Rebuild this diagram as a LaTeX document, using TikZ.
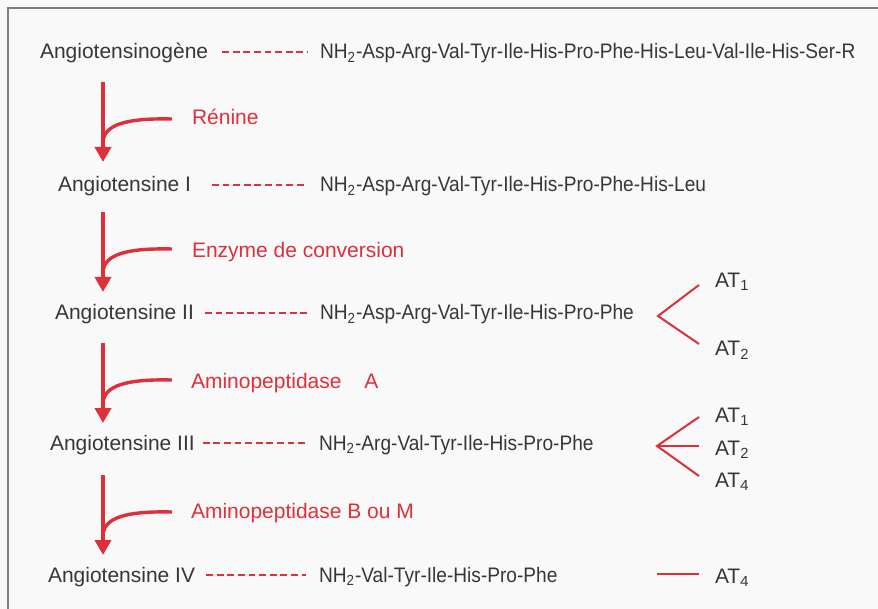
\documentclass[tikz,border=0pt]{standalone}
\usepackage{fontspec}
\setmainfont{Liberation Sans}
\newfontfamily\pepfont{Liberation Sans}[FakeStretch=0.91]
\usetikzlibrary{arrows.meta}
\definecolor{myred}{RGB}{222,48,58}
\definecolor{txt}{RGB}{55,55,55}
\definecolor{framec}{RGB}{125,125,125}
\definecolor{bg}{RGB}{249,249,249}
\begin{document}
\begin{tikzpicture}[x=0.5pt,y=-0.5pt,
  every node/.style={inner sep=0pt, outer sep=0pt, font=\fontsize{10.5}{12}\selectfont, text=txt, anchor=base west},
  pep/.style={font=\fontsize{10.5}{12}\pepfont},
  lbl/.style={text=myred},
  dashln/.style={draw=myred, line width=0.7pt, dash pattern=on 3.4pt off 1.9pt},
  enz/.style={draw=myred, line width=2.2pt, -{Triangle[length=7.5pt,width=8pt]}},
  enzcurve/.style={draw=myred, line width=1.7pt},
  rec/.style={draw=myred, line width=1pt},
]
\fill[bg] (0,0) rectangle (878,609);
\useasboundingbox (0,0) rectangle (878,609);
\draw[framec, line width=1pt] (878,8) -- (8,8) -- (8,609);

% names and peptides
\node (n0) at (40,59) {Angiotensinogène};
\node[pep] (p0) at (320,59) {NH\textsubscript{2}-Asp-Arg-Val-Tyr-Ile-His-Pro-Phe-His-Leu-Val-Ile-His-Ser-R};
\node (n1) at (58,192) {Angiotensine I};
\node[pep] (p1) at (320,192) {NH\textsubscript{2}-Asp-Arg-Val-Tyr-Ile-His-Pro-Phe-His-Leu};
\node (n2) at (55,320) {Angiotensine II};
\node[pep] (p2) at (320,320) {NH\textsubscript{2}-Asp-Arg-Val-Tyr-Ile-His-Pro-Phe};
\node (n3) at (50,450) {Angiotensine III};
\node[pep] (p3) at (319,450) {NH\textsubscript{2}-Arg-Val-Tyr-Ile-His-Pro-Phe};
\node (n4) at (48,582) {Angiotensine IV};
\node[pep] (p4) at (319,582) {NH\textsubscript{2}-Val-Tyr-Ile-His-Pro-Phe};

% dashed links
\draw[dashln] ([shift={(7pt,3.5pt)}]n0.base east) -- ([shift={(-6.5pt,3.5pt)}]p0.base west);
\draw[dashln] ([shift={(10.5pt,3.5pt)}]n1.base east) -- ([shift={(-6.5pt,3.5pt)}]p1.base west);
\draw[dashln] ([shift={(5.5pt,3.5pt)}]n2.base east) -- ([shift={(-6.5pt,3.5pt)}]p2.base west);
\draw[dashln] ([shift={(4pt,3.5pt)}]n3.base east) -- ([shift={(-6.5pt,3.5pt)}]p3.base west);
\draw[dashln] ([shift={(5.5pt,3.5pt)}]n4.base east) -- ([shift={(-6.5pt,3.5pt)}]p4.base west);

% enzymes
\node[lbl] (e1) at (192,125) {Rénine};
\node[lbl] (e2) at (192,257) {Enzyme de conversion};
\node[lbl] (e3) at (191,388) {Aminopeptidase\hspace{8.5pt} A};
\node[lbl] (e4) at (191,518) {Aminopeptidase B ou M};

% enzymatic arrows
\foreach \i/\t in {1/82, 2/212, 3/343, 4/475}{
  \coordinate (s\i) at (103,\t);
  \coordinate (t\i) at (103,\t+80);
  \coordinate (k\i) at (172,\t+37);
  \coordinate (j\i) at (103,\t+60);
  \draw[enz] (s\i) -- (t\i);
  \draw[enzcurve] (k\i) .. controls (128,\t+36) and (104,\t+42) .. (j\i);
}

% receptors
\node (r21) at (715,287) {AT\textsubscript{1}};
\node (r22) at (715,356) {AT\textsubscript{2}};
\coordinate (v2) at (658,316);
\coordinate (u21) at (699,285);
\coordinate (u22) at (699,344);
\draw[rec] (u21) -- (v2) -- (u22);

\node (r31) at (715,422) {AT\textsubscript{1}};
\node (r32) at (715,455) {AT\textsubscript{2}};
\node (r34) at (715,487) {AT\textsubscript{4}};
\coordinate (v3) at (657,446);
\coordinate (u31) at (699,417);
\coordinate (u32) at (699,446);
\coordinate (u34) at (699,476);
\draw[rec] (u31) -- (v3) -- (u34);
\draw[rec] (v3) -- (u32);

\node (r44) at (715,583) {AT\textsubscript{4}};
\coordinate (v4) at (657,574);
\coordinate (u44) at (699,574);
\draw[rec] (v4) -- (u44);
\end{tikzpicture}
\end{document}
